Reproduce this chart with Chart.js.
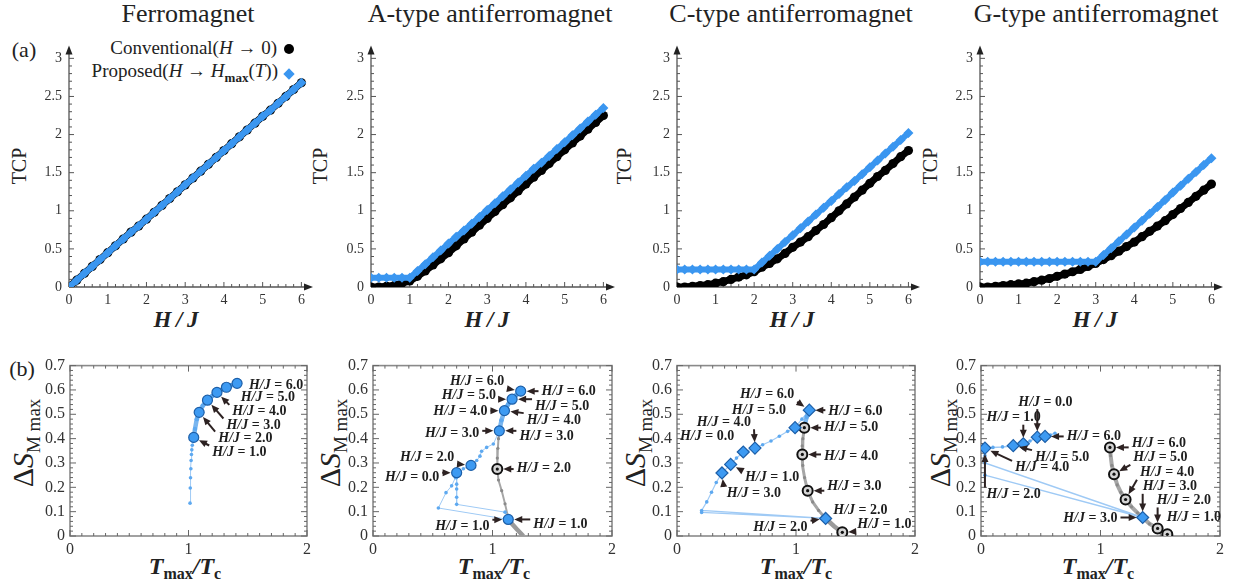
<!DOCTYPE html>
<html>
<head>
<meta charset="utf-8">
<script src="https://cdn.jsdelivr.net/npm/chart.js@4/dist/chart.umd.min.js"></script>
<style>
body{margin:0;background:#fff;width:1237px;height:586px;position:relative;overflow:hidden;font-family:"Liberation Serif",serif;color:#222}
canvas{position:absolute}
.t{position:absolute;white-space:nowrap;transform:translate(-50%,-50%)}
.ttl{font-size:26px}
.hj{font-size:23px;font-weight:bold;font-style:italic}
.tcp{font-size:20px;transform:translate(-50%,-50%) rotate(-90deg)}
.ds{font-size:30px;transform:translate(-50%,-50%) rotate(-90deg)}
.ds sub{font-size:19px}
.tm{font-size:24px;font-weight:bold;font-style:italic}
.tm sub{font-size:16px;font-style:normal}
.lg{position:absolute;font-size:19px;white-space:nowrap;transform:translateY(-50%)}
.lg sub{font-size:13px;font-weight:bold}
</style>
</head>
<body>
<div class="t ttl" style="left:188px;top:14px">Ferromagnet</div>
<div class="t ttl" style="left:490px;top:14px">A-type antiferromagnet</div>
<div class="t ttl" style="left:791px;top:14px">C-type antiferromagnet</div>
<div class="t ttl" style="left:1096px;top:14px">G-type antiferromagnet</div>

<div class="t" style="left:24px;top:50px;font-size:22px">(a)</div>
<div class="t" style="left:22px;top:369px;font-size:22px">(b)</div>

<div class="lg" style="right:960px;top:48px">Conventional(<i>H</i> → 0)</div>
<div class="lg" style="right:959px;top:73px">Proposed(<i>H</i> → <i>H</i><sub>max</sub>(<i>T</i>))</div>
<div style="position:absolute;left:284px;top:44px;width:10px;height:10px;border-radius:50%;background:#000"></div>
<div style="position:absolute;left:285px;top:70px;width:8px;height:8px;background:#3a96f0;transform:rotate(45deg)"></div>

<div class="t tcp" style="left:19px;top:166px">TCP</div>
<div class="t tcp" style="left:320px;top:166px">TCP</div>
<div class="t tcp" style="left:624px;top:166px">TCP</div>
<div class="t tcp" style="left:930px;top:166px">TCP</div>

<div class="t hj" style="left:176px;top:320px">H&thinsp;/&thinsp;J</div>
<div class="t hj" style="left:487px;top:320px">H&thinsp;/&thinsp;J</div>
<div class="t hj" style="left:792px;top:320px">H&thinsp;/&thinsp;J</div>
<div class="t hj" style="left:1095px;top:320px">H&thinsp;/&thinsp;J</div>

<div class="t ds" style="left:25px;top:443px">Δ<i>S</i><sub>M max</sub></div>
<div class="t ds" style="left:332px;top:443px">Δ<i>S</i><sub>M max</sub></div>
<div class="t ds" style="left:637px;top:443px">Δ<i>S</i><sub>M max</sub></div>
<div class="t ds" style="left:942px;top:443px">Δ<i>S</i><sub>M max</sub></div>

<div class="t tm" style="left:185px;top:568px">T<sub>max</sub>/T<sub>c</sub></div>
<div class="t tm" style="left:494px;top:568px">T<sub>max</sub>/T<sub>c</sub></div>
<div class="t tm" style="left:796px;top:568px">T<sub>max</sub>/T<sub>c</sub></div>
<div class="t tm" style="left:1098px;top:568px">T<sub>max</sub>/T<sub>c</sub></div>

<script>
// ---- (a) TCP vs H/J ----
const hGrid = [0, 0.2, 0.4, 0.6, 0.8, 1.0, 1.2, 1.4, 1.6, 1.8, 2.0, 2.2, 2.4, 2.6, 2.8, 3.0,
  3.2, 3.4, 3.6, 3.8, 4.0, 4.2, 4.4, 4.6, 4.8, 5.0, 5.2, 5.4, 5.6, 5.8, 6.0];

const ferroConv = [0, 0.09, 0.18, 0.27, 0.36, 0.45, 0.54, 0.63, 0.72, 0.80, 0.89, 0.98, 1.07, 1.16, 1.25, 1.34,
  1.43, 1.52, 1.61, 1.70, 1.79, 1.88, 1.97, 2.06, 2.15, 2.24, 2.32, 2.41, 2.50, 2.59, 2.68];
const ferroProp = [0, 0.09, 0.18, 0.27, 0.36, 0.45, 0.54, 0.63, 0.72, 0.80, 0.89, 0.98, 1.07, 1.16, 1.25, 1.34,
  1.43, 1.52, 1.61, 1.70, 1.79, 1.88, 1.97, 2.06, 2.15, 2.24, 2.32, 2.41, 2.50, 2.59, 2.68];

const aConv = [0, 0, 0.01, 0.02, 0.05, 0.08, 0.14, 0.21, 0.29, 0.37, 0.45, 0.54, 0.63, 0.72, 0.81, 0.90,
  0.99, 1.08, 1.17, 1.26, 1.35, 1.44, 1.53, 1.62, 1.71, 1.80, 1.89, 1.98, 2.07, 2.16, 2.25];
const aProp = [0.12, 0.12, 0.12, 0.12, 0.12, 0.12, 0.21, 0.30, 0.39, 0.48, 0.57, 0.66, 0.74, 0.83, 0.92, 1.01,
  1.10, 1.19, 1.28, 1.37, 1.46, 1.55, 1.63, 1.72, 1.81, 1.90, 1.99, 2.08, 2.17, 2.26, 2.35];

const cConv = [0, 0, 0.01, 0.02, 0.03, 0.05, 0.07, 0.10, 0.13, 0.16, 0.20, 0.26, 0.31, 0.37, 0.44, 0.52,
  0.59, 0.66, 0.74, 0.82, 0.91, 1.00, 1.09, 1.18, 1.27, 1.36, 1.45, 1.53, 1.62, 1.71, 1.79];
const cProp = [0.23, 0.23, 0.23, 0.23, 0.23, 0.23, 0.23, 0.23, 0.23, 0.23, 0.23, 0.32, 0.41, 0.50, 0.59, 0.68,
  0.77, 0.86, 0.95, 1.04, 1.13, 1.22, 1.31, 1.39, 1.48, 1.57, 1.66, 1.75, 1.84, 1.93, 2.02];

const gConv = [0, 0, 0.01, 0.02, 0.03, 0.04, 0.05, 0.07, 0.09, 0.11, 0.14, 0.17, 0.20, 0.23, 0.27, 0.31,
  0.36, 0.41, 0.47, 0.53, 0.59, 0.66, 0.73, 0.80, 0.87, 0.95, 1.03, 1.11, 1.19, 1.27, 1.35];
const gProp = [0.33, 0.33, 0.33, 0.33, 0.33, 0.33, 0.33, 0.33, 0.33, 0.33, 0.33, 0.33, 0.33, 0.33, 0.33, 0.33,
  0.42, 0.51, 0.60, 0.69, 0.78, 0.87, 0.96, 1.05, 1.14, 1.24, 1.33, 1.42, 1.51, 1.60, 1.69];

const xTicksA = [0, 1, 2, 3, 4, 5, 6];
const yTicksA = [0, 0.5, 1, 1.5, 2, 2.5, 3];

// ---- (b) dS_M max vs Tmax/Tc ----
const b1BlueT = [1.013, 1.015, 1.017, 1.020, 1.022, 1.025, 1.028, 1.032, 1.037, 1.044];
const b1BlueS = [0.135, 0.197, 0.239, 0.276, 0.310, 0.335, 0.354, 0.373, 0.389, 0.405];
const b1ThickT = [1.044, 1.055, 1.070, 1.090, 1.120, 1.160, 1.200, 1.240, 1.280, 1.320, 1.360, 1.410];
const b1ThickS = [0.405, 0.440, 0.480, 0.508, 0.535, 0.558, 0.575, 0.590, 0.601, 0.611, 0.619, 0.627];
const b1MarkT = [1.044, 1.090, 1.160, 1.240, 1.320, 1.410];
const b1MarkS = [0.405, 0.508, 0.558, 0.590, 0.611, 0.627];

const b2BlueT = [0.700, 0.700, 0.700, 0.700, 0.700, 0.700, 1.105, 1.132, 0.547, 0.611, 0.658, 0.690, 0.756, 0.820, 0.868, 0.895, 0.909, 0.951, 1.007, 1.057];
const b2BlueS = [0.260, 0.240, 0.213, 0.193, 0.159, 0.130, 0.098, 0.068, 0.115, 0.178, 0.206, 0.240, 0.276, 0.290, 0.310, 0.328, 0.348, 0.364, 0.378, 0.432];
const b2ThickT = [1.057, 1.075, 1.100, 1.130, 1.164, 1.200, 1.236];
const b2ThickS = [0.432, 0.475, 0.515, 0.540, 0.562, 0.580, 0.595];
const b2MarkT = [0.700, 1.132, 0.820, 1.057, 1.100, 1.164, 1.236];
const b2MarkS = [0.260, 0.068, 0.290, 0.432, 0.515, 0.562, 0.595];
const b2GrayT = [1.057, 1.050, 1.045, 1.040, 1.040, 1.050, 1.077, 1.105, 1.136];
const b2GrayS = [0.432, 0.400, 0.360, 0.320, 0.275, 0.230, 0.186, 0.132, 0.065];
const b2TailT = [1.136, 1.200, 1.258];
const b2TailS = [0.065, 0.030, 0.000];
const b2CircT = [1.040];
const b2CircS = [0.275];

const b3BlueT = [1.112, 1.050, 0.992, 0.930, 0.860, 0.790, 0.720, 0.655, 0.557, 0.500, 0.451, 0.378, 0.330, 0.290, 0.250, 0.207, 1.249, 0.207];
const b3BlueS = [0.517, 0.480, 0.445, 0.430, 0.410, 0.390, 0.375, 0.361, 0.345, 0.320, 0.294, 0.259, 0.220, 0.180, 0.140, 0.105, 0.072, 0.097];
const b3ThickT = [1.112, 1.090, 1.075];
const b3ThickS = [0.517, 0.490, 0.460];
const b3MarkT = [0.557, 0.451, 1.249, 0.378, 0.655, 0.992, 1.112];
const b3MarkS = [0.345, 0.294, 0.072, 0.259, 0.361, 0.445, 0.517];
const b3GrayT = [1.100, 1.080, 1.070, 1.058, 1.052, 1.053, 1.058, 1.072, 1.098, 1.140, 1.190, 1.249];
const b3GrayS = [0.500, 0.470, 0.445, 0.400, 0.370, 0.335, 0.290, 0.240, 0.186, 0.140, 0.105, 0.072];
const b3TailT = [1.249, 1.320, 1.389, 1.420];
const b3TailS = [0.072, 0.040, 0.015, 0.000];
const b3CircT = [1.070, 1.053, 1.098, 1.389];
const b3CircS = [0.445, 0.335, 0.186, 0.015];

const b4BlueT = [0.619, 0.580, 0.536, 0.471, 0.410, 0.354, 0.270, 0.180, 0.100, 0.033, 0.033, 0.033, 1.353, 0.033];
const b4BlueS = [0.422, 0.415, 0.409, 0.406, 0.390, 0.379, 0.371, 0.366, 0.364, 0.361, 0.330, 0.300, 0.076, 0.250];
const b4MarkT = [0.033, 0.270, 0.354, 0.471, 0.536, 1.353];
const b4MarkS = [0.361, 0.371, 0.379, 0.406, 0.409, 0.076];
const b4GrayT = [1.079, 1.085, 1.095, 1.113, 1.140, 1.170, 1.210, 1.260, 1.310, 1.353, 1.410, 1.478, 1.559, 1.600];
const b4GrayS = [0.364, 0.330, 0.290, 0.254, 0.210, 0.180, 0.150, 0.120, 0.095, 0.076, 0.050, 0.031, 0.007, 0.000];
const b4CircT = [1.079, 1.113, 1.210, 1.478, 1.559];
const b4CircS = [0.364, 0.254, 0.150, 0.031, 0.007];

// H/J callouts: arrow target (tx,ty) and label anchor (lx = left edge, ly = middle), in data units
const b1Notes = [
  {h: '6.0', tx: 1.410, ty: 0.627, lx: 1.51, ly: 0.620},
  {h: '5.0', tx: 1.320, ty: 0.611, lx: 1.44, ly: 0.568},
  {h: '4.0', tx: 1.240, ty: 0.590, lx: 1.37, ly: 0.510},
  {h: '3.0', tx: 1.160, ty: 0.558, lx: 1.32, ly: 0.454},
  {h: '2.0', tx: 1.090, ty: 0.508, lx: 1.25, ly: 0.400},
  {h: '1.0', tx: 1.044, ty: 0.405, lx: 1.20, ly: 0.343}
];
const b2Notes = [
  {h: '6.0', tx: 1.236, ty: 0.595, lx: 0.644, ly: 0.634},
  {h: '5.0', tx: 1.164, ty: 0.562, lx: 0.575, ly: 0.577},
  {h: '4.0', tx: 1.100, ty: 0.515, lx: 0.505, ly: 0.510},
  {h: '3.0', tx: 1.057, ty: 0.432, lx: 0.435, ly: 0.422},
  {h: '2.0', tx: 0.820, ty: 0.290, lx: 0.226, ly: 0.324},
  {h: '0.0', tx: 0.700, ty: 0.260, lx: 0.100, ly: 0.240},
  {h: '1.0', tx: 1.132, ty: 0.068, lx: 0.520, ly: 0.038},
  {h: '6.0', tx: 1.236, ty: 0.595, lx: 1.410, ly: 0.594},
  {h: '5.0', tx: 1.164, ty: 0.562, lx: 1.356, ly: 0.534},
  {h: '4.0', tx: 1.100, ty: 0.515, lx: 1.286, ly: 0.476},
  {h: '3.0', tx: 1.057, ty: 0.432, lx: 1.225, ly: 0.409},
  {h: '2.0', tx: 1.040, ty: 0.275, lx: 1.202, ly: 0.276},
  {h: '1.0', tx: 1.132, ty: 0.068, lx: 1.341, ly: 0.047}
];
const b3Notes = [
  {h: '6.0', tx: 1.112, ty: 0.517, lx: 0.529, ly: 0.580},
  {h: '5.0', tx: 0.992, ty: 0.445, lx: 0.460, ly: 0.514},
  {h: '4.0', tx: 0.655, ty: 0.361, lx: 0.166, ly: 0.467},
  {h: '0.0', tx: 0.557, ty: 0.345, lx: 0.025, ly: 0.410},
  {h: '1.0', tx: 0.451, ty: 0.294, lx: 0.571, ly: 0.240},
  {h: '3.0', tx: 0.378, ty: 0.259, lx: 0.418, ly: 0.173},
  {h: '2.0', tx: 1.249, ty: 0.072, lx: 0.641, ly: 0.034},
  {h: '6.0', tx: 1.112, ty: 0.517, lx: 1.272, ly: 0.510},
  {h: '5.0', tx: 1.070, ty: 0.445, lx: 1.235, ly: 0.445},
  {h: '4.0', tx: 1.053, ty: 0.335, lx: 1.235, ly: 0.327},
  {h: '3.0', tx: 1.098, ty: 0.186, lx: 1.263, ly: 0.202},
  {h: '2.0', tx: 1.249, ty: 0.072, lx: 1.313, ly: 0.105},
  {h: '1.0', tx: 1.389, ty: 0.015, lx: 1.515, ly: 0.047}
];
const b4Notes = [
  {h: '0.0', tx: 0.471, ty: 0.406, lx: 0.312, ly: 0.550},
  {h: '1.0', tx: 0.354, ty: 0.379, lx: 0.047, ly: 0.486},
  {h: '6.0', tx: 0.536, ty: 0.409, lx: 0.717, ly: 0.410},
  {h: '5.0', tx: 0.270, ty: 0.371, lx: 0.452, ly: 0.324},
  {h: '4.0', tx: 0.033, ty: 0.361, lx: 0.285, ly: 0.280},
  {h: '2.0', tx: 0.033, ty: 0.361, lx: 0.047, ly: 0.170},
  {h: '6.0', tx: 1.079, ty: 0.364, lx: 1.261, ly: 0.382},
  {h: '5.0', tx: 1.113, ty: 0.254, lx: 1.275, ly: 0.321},
  {h: '4.0', tx: 1.210, ty: 0.150, lx: 1.330, ly: 0.260},
  {h: '3.0', tx: 1.353, ty: 0.076, lx: 1.353, ly: 0.202},
  {h: '2.0', tx: 1.478, ty: 0.031, lx: 1.470, ly: 0.146},
  {h: '1.0', tx: 1.559, ty: 0.007, lx: 1.554, ly: 0.078},
  {h: '3.0', tx: 1.353, ty: 0.076, lx: 0.688, ly: 0.072}
];

const BLUE = '#3a96f0';
const SERIF = '"Liberation Serif", "DejaVu Serif", serif';
const pts = (xs, ys) => xs.map((v, i) => ({x: v, y: ys[i]}));

function tri(ctx, x, y, ux, uy, len, hw) {
  const bx = x - ux * len, by = y - uy * len;
  ctx.beginPath();
  ctx.moveTo(x, y);
  ctx.lineTo(bx - uy * hw, by + ux * hw);
  ctx.lineTo(bx + uy * hw, by - ux * hw);
  ctx.closePath();
  ctx.fill();
}

function eachTick(max, step, major, fn) {
  for (let k = 0; k * step <= max + 1e-9; k++) {
    const v = k * step;
    const r = v / major;
    fn(v, Math.abs(r - Math.round(r)) < 1e-6);
  }
}

// axes with arrows (row a), framed box (row b), callouts
const deco = {
  id: 'deco',
  beforeDatasetsDraw(chart, args, o) {
    const ctx = chart.ctx, a = chart.chartArea;
    const sx = chart.scales.x, sy = chart.scales.y;
    ctx.save();
    if (o.kind === 'axes') {
      const x0 = sx.getPixelForValue(0), y0 = sy.getPixelForValue(0);
      ctx.strokeStyle = '#555';
      ctx.lineWidth = 1.3;
      ctx.beginPath();
      ctx.moveTo(x0, y0); ctx.lineTo(a.right - 5, y0);
      ctx.moveTo(x0, y0); ctx.lineTo(x0, a.top + 5);
      ctx.stroke();
      ctx.fillStyle = '#222';
      tri(ctx, a.right, y0, 1, 0, 9, 3.5);
      tri(ctx, x0, a.top, 0, -1, 9, 3.5);
      ctx.lineWidth = 1;
      ctx.beginPath();
      eachTick(6, 0.2, 1, (v, big) => {
        const p = sx.getPixelForValue(v);
        ctx.moveTo(p, y0); ctx.lineTo(p, y0 - (big ? 5 : 3));
      });
      eachTick(3, 0.1, 0.5, (v, big) => {
        const p = sy.getPixelForValue(v);
        ctx.moveTo(x0, p); ctx.lineTo(x0 + (big ? 5 : 3), p);
      });
      ctx.stroke();
    } else {
      ctx.strokeStyle = '#8a8a8a';
      ctx.lineWidth = 1.6;
      ctx.strokeRect(a.left, a.top, a.right - a.left, a.bottom - a.top);
      ctx.lineWidth = 1;
      ctx.strokeStyle = '#666';
      ctx.beginPath();
      eachTick(2, 0.1, 1, (v, big) => {
        const p = sx.getPixelForValue(v), l = big ? 6 : 3;
        ctx.moveTo(p, a.bottom); ctx.lineTo(p, a.bottom - l);
        ctx.moveTo(p, a.top); ctx.lineTo(p, a.top + l);
      });
      eachTick(0.7, 0.02, 0.1, (v, big) => {
        const p = sy.getPixelForValue(v), l = big ? 6 : 3;
        ctx.moveTo(a.left, p); ctx.lineTo(a.left + l, p);
        ctx.moveTo(a.right, p); ctx.lineTo(a.right - l, p);
      });
      ctx.stroke();
    }
    ctx.restore();
  },
  afterDatasetsDraw(chart, args, o) {
    if (!o.notes) return;
    const ctx = chart.ctx;
    const sx = chart.scales.x, sy = chart.scales.y;
    ctx.save();
    ctx.textBaseline = 'middle';
    for (const n of o.notes) {
      const px = sx.getPixelForValue(n.tx), py = sy.getPixelForValue(n.ty);
      const lx = sx.getPixelForValue(n.lx), ly = sy.getPixelForValue(n.ly);
      ctx.fillStyle = '#1e1e1e';
      ctx.font = 'bold italic 14px ' + SERIF;
      ctx.fillText('H/J', lx, ly);
      const w1 = ctx.measureText('H/J').width;
      ctx.font = 'bold 14px ' + SERIF;
      const s2 = ' = ' + n.h;
      ctx.fillText(s2, lx + w1, ly);
      const w = w1 + ctx.measureText(s2).width;
      // start from the label box edge closest to the target
      const sxp = Math.min(Math.max(px, lx - 3), lx + w + 3);
      const syp = Math.min(Math.max(py, ly - 7), ly + 7);
      const dx = px - sxp, dy = py - syp, d = Math.hypot(dx, dy);
      if (d < 12) continue;
      const ux = dx / d, uy = dy / d;
      const ex = px - ux * 6, ey = py - uy * 6;
      ctx.strokeStyle = '#2d2222';
      ctx.fillStyle = '#2d2222';
      ctx.lineWidth = 2;
      ctx.beginPath();
      ctx.moveTo(sxp, syp);
      ctx.lineTo(ex - ux * 5, ey - uy * 5);
      ctx.stroke();
      tri(ctx, ex, ey, ux, uy, 8, 3.5);
    }
    ctx.restore();
  }
};

function makePanel(L, R, T, B, datasets, xs, ys, plug) {
  const padT = 12, padR = 12, yw = 45, xh = 32;
  const c = document.createElement('canvas');
  c.width = R - L + yw + padR;
  c.height = B - T + padT + xh;
  c.style.left = (L - yw) + 'px';
  c.style.top = (T - padT) + 'px';
  document.body.appendChild(c);
  const fmt = v => String(+v.toFixed(2));
  return new Chart(c, {
    type: 'scatter',
    data: {datasets: datasets},
    options: {
      responsive: false,
      animation: false,
      layout: {padding: {top: padT, right: padR, left: 0, bottom: 0}},
      plugins: {legend: {display: false}, tooltip: {enabled: false}, deco: plug},
      scales: {
        x: {
          type: 'linear', min: xs.min, max: xs.max,
          afterFit: s => { s.height = xh; },
          grid: {display: false, drawTicks: false}, border: {display: false},
          afterBuildTicks: s => { s.ticks = xs.ticks.map(v => ({value: v})); },
          ticks: {autoSkip: false, maxRotation: 0, padding: xs.pad, color: '#333', callback: fmt,
            font: {family: SERIF, size: xs.size}}
        },
        y: {
          type: 'linear', min: ys.min, max: ys.max,
          afterFit: s => { s.width = yw; },
          grid: {display: false, drawTicks: false}, border: {display: false},
          afterBuildTicks: s => { s.ticks = ys.ticks.map(v => ({value: v})); },
          ticks: {autoSkip: false, padding: ys.pad, color: '#333', callback: fmt,
            font: {family: SERIF, size: ys.size}}
        }
      }
    },
    plugins: [deco]
  });
}

// top row
function topSets(conv, prop) {
  return [
    {data: pts(hGrid, prop), showLine: true, borderColor: BLUE, borderWidth: 6,
      pointStyle: 'rectRot', pointRadius: 5, pointBackgroundColor: BLUE, pointBorderWidth: 0, order: 1},
    {data: pts(hGrid, conv), showLine: true, borderColor: '#000', borderWidth: 7,
      pointRadius: 4.6, pointBackgroundColor: '#000', pointBorderWidth: 0, order: 2}
  ];
}
const axA = {min: 0, max: 6.3, ticks: xTicksA, pad: 5, size: 14};
const ayA = {min: 0, max: 3.17, ticks: yTicksA, pad: 7, size: 14};
makePanel(69, 313, 42, 287, topSets(ferroConv, ferroProp), axA, ayA, {kind: 'axes'});
makePanel(371, 615, 42, 287, topSets(aConv, aProp), axA, ayA, {kind: 'axes'});
makePanel(677, 920, 42, 287, topSets(cConv, cProp), axA, ayA, {kind: 'axes'});
makePanel(980, 1223, 42, 287, topSets(gConv, gProp), axA, ayA, {kind: 'axes'});

// bottom row
function bottomSets(p) {
  const sets = [];
  if (p.grayT) sets.push({data: pts(p.grayT, p.grayS), showLine: true, borderColor: '#a6a6a6', borderWidth: p.grayW,
    pointRadius: 1.6, pointBackgroundColor: '#8a8a8a', pointBorderWidth: 0, order: 6});
  if (p.tailT) sets.push({data: pts(p.tailT, p.tailS), showLine: true, borderColor: '#9a9a9a', borderWidth: 4.5,
    pointRadius: 0, order: 6});
  sets.push({data: pts(p.blueT, p.blueS), showLine: true, borderColor: '#9fcaf5', borderWidth: p.blueW,
    pointRadius: 1.8, pointBackgroundColor: '#5ea9f0', pointBorderWidth: 0, order: 4});
  if (p.thickT) sets.push({data: pts(p.thickT, p.thickS), showLine: true, borderColor: '#7ab6ef', borderWidth: 4.5,
    pointRadius: 2.2, pointBackgroundColor: '#5ea9f0', pointBorderWidth: 0, order: 3});
  sets.push({data: pts(p.markT, p.markS), pointStyle: p.markStyle, pointRadius: p.markStyle === 'circle' ? 5 : 6,
    pointBackgroundColor: '#3d9af2', pointBorderColor: '#1d5fa8', pointBorderWidth: 1.2, order: 1});
  if (p.circT) {
    sets.push({data: pts(p.circT, p.circS), pointRadius: 5, pointBackgroundColor: '#d4d4d4',
      pointBorderColor: '#111', pointBorderWidth: 2, order: 1});
    sets.push({data: pts(p.circT, p.circS), pointRadius: 1.6, pointBackgroundColor: '#111',
      pointBorderWidth: 0, order: 0});
  }
  return sets;
}
const axB = {min: 0, max: 2, ticks: [0, 1, 2], pad: 4, size: 16};
const ayB = {min: 0, max: 0.7, ticks: [0, 0.1, 0.2, 0.3, 0.4, 0.5, 0.6, 0.7], pad: 5, size: 16};

makePanel(70, 307, 363, 536, bottomSets({blueT: b1BlueT, blueS: b1BlueS, blueW: 1, thickT: b1ThickT, thickS: b1ThickS,
  markT: b1MarkT, markS: b1MarkS, markStyle: 'circle'}), axB, ayB, {kind: 'frame', notes: b1Notes});
makePanel(373, 612, 363, 536, bottomSets({blueT: b2BlueT, blueS: b2BlueS, blueW: 1, thickT: b2ThickT, thickS: b2ThickS,
  markT: b2MarkT, markS: b2MarkS, markStyle: 'circle', grayT: b2GrayT, grayS: b2GrayS, grayW: 2,
  tailT: b2TailT, tailS: b2TailS, circT: b2CircT, circS: b2CircS}), axB, ayB, {kind: 'frame', notes: b2Notes});
makePanel(677, 915, 363, 536, bottomSets({blueT: b3BlueT, blueS: b3BlueS, blueW: 1.2, thickT: b3ThickT, thickS: b3ThickS,
  markT: b3MarkT, markS: b3MarkS, markStyle: 'rectRot', grayT: b3GrayT, grayS: b3GrayS, grayW: 3,
  tailT: b3TailT, tailS: b3TailS, circT: b3CircT, circS: b3CircS}), axB, ayB, {kind: 'frame', notes: b3Notes});
makePanel(981, 1220, 363, 536, bottomSets({blueT: b4BlueT, blueS: b4BlueS, blueW: 1.5,
  markT: b4MarkT, markS: b4MarkS, markStyle: 'rectRot', grayT: b4GrayT, grayS: b4GrayS, grayW: 4,
  circT: b4CircT, circS: b4CircS}), axB, ayB, {kind: 'frame', notes: b4Notes});
</script>
</body>
</html>
